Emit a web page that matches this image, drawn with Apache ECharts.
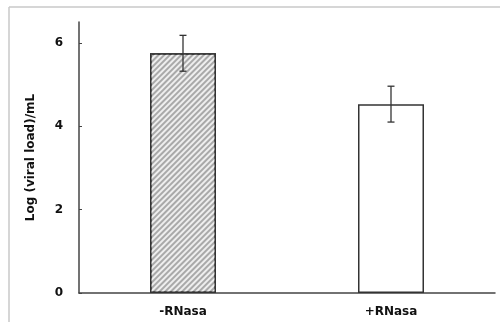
<!DOCTYPE html>
<html>
<head>
<meta charset="utf-8">
<script src="https://cdn.jsdelivr.net/npm/echarts@6/dist/echarts.min.js"></script>
<style>
  html, body { margin: 0; padding: 0; background: #fff; }
  #chart { width: 500px; height: 322px; }
</style>
</head>
<body>
<div id="chart"></div>
<script>
var categories = ["-RNasa", "+RNasa"];
var means = [5.75, 4.53];
var errors = [0.43, 0.43];
var yTicks = [0, 2, 4, 6];

var myChart = echarts.init(document.getElementById("chart"));

var errorData = means.map(function (m, i) {
  return [i, m - errors[i], m + errors[i]];
});

var font = "DejaVu Sans";

var option = {
  animation: false,
  grid: { left: 79, right: 5, top: 22, bottom: 29 },
  graphic: [
    { type: "line", shape: { x1: 9, y1: 7, x2: 500, y2: 7 }, style: { stroke: "#c8c8c8", lineWidth: 1.5 } },
    { type: "line", shape: { x1: 9, y1: 7, x2: 9, y2: 322 }, style: { stroke: "#c8c8c8", lineWidth: 1.5 } }
  ],
  xAxis: {
    type: "category",
    data: categories,
    axisTick: { show: false },
    axisLine: { lineStyle: { color: "#444", width: 1.5 } },
    axisLabel: { color: "#111", fontSize: 12, fontWeight: "bold", fontFamily: font, margin: 13 }
  },
  yAxis: {
    type: "value",
    min: 0,
    max: 6.5,
    interval: 2,
    name: "Log (viral load)/mL",
    nameLocation: "middle",
    nameGap: 42,
    nameTextStyle: { color: "#111", fontSize: 12, fontWeight: "bold", fontFamily: font },
    splitLine: { show: false },
    axisTick: { show: true, inside: true, length: 3, customValues: yTicks, lineStyle: { color: "#444" } },
    axisLine: { show: true, lineStyle: { color: "#444", width: 1.5 } },
    axisLabel: {
      color: "#111", fontSize: 12, fontWeight: "bold", fontFamily: font, margin: 16,
      customValues: yTicks
    }
  },
  series: [
    {
      type: "bar",
      barWidth: 66,
      data: [
        {
          value: means[0],
          itemStyle: {
            color: "#a9a9a9",
            borderColor: "#333",
            borderWidth: 1.5,
            decal: {
              symbol: "rect",
              color: "#eeeeee",
              dashArrayX: [1, 0],
              dashArrayY: [1.2, 2],
              rotation: -Math.PI / 4
            }
          }
        },
        {
          value: means[1],
          itemStyle: { color: "#fff", borderColor: "#333", borderWidth: 1.5 }
        }
      ]
    },
    {
      type: "custom",
      data: errorData,
      z: 10,
      renderItem: function (params, api) {
        var lo = api.coord([api.value(0), api.value(1)]);
        var hi = api.coord([api.value(0), api.value(2)]);
        var hw = 3.5;
        var st = { stroke: "#333", lineWidth: 1.3 };
        return {
          type: "group",
          children: [
            { type: "line", shape: { x1: hi[0], y1: hi[1], x2: lo[0], y2: lo[1] }, style: st },
            { type: "line", shape: { x1: hi[0] - hw, y1: hi[1], x2: hi[0] + hw, y2: hi[1] }, style: st },
            { type: "line", shape: { x1: lo[0] - hw, y1: lo[1], x2: lo[0] + hw, y2: lo[1] }, style: st }
          ]
        };
      }
    }
  ]
};

myChart.setOption(option);
</script>
</body>
</html>
